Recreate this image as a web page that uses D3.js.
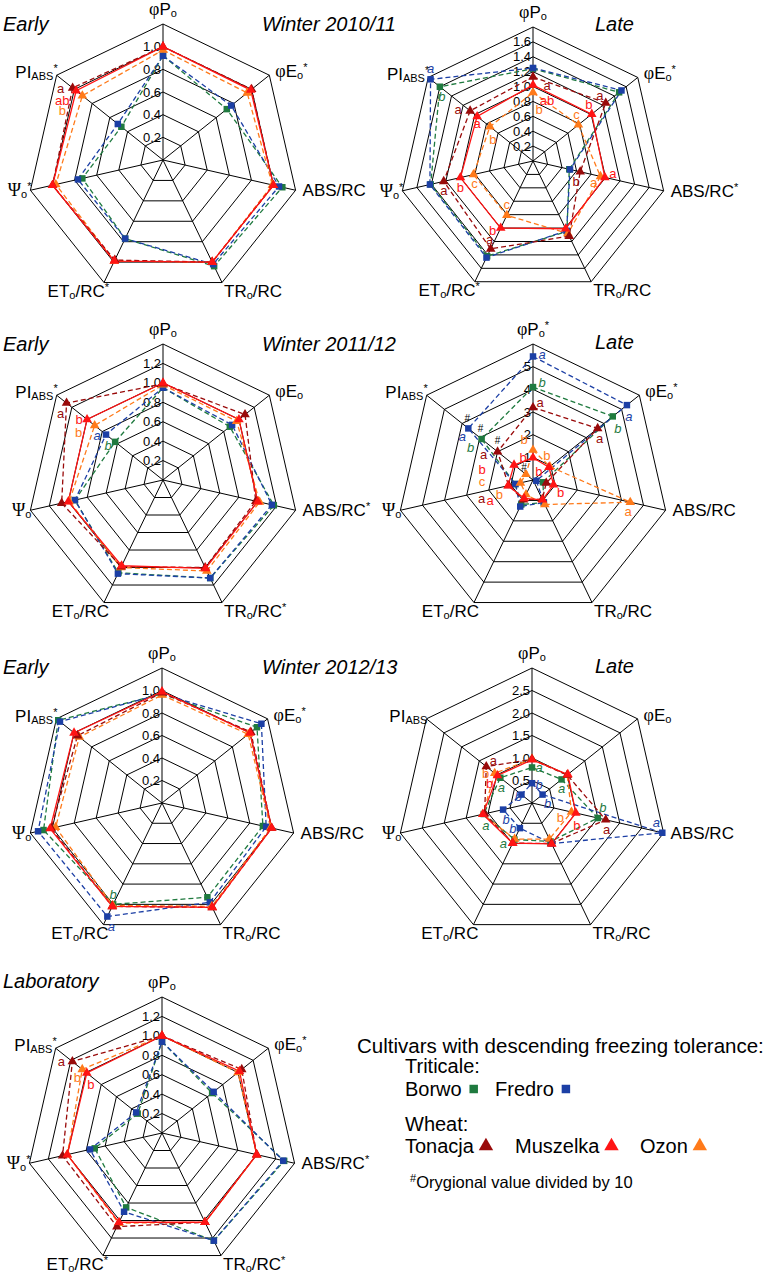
<!DOCTYPE html>
<html><head><meta charset="utf-8">
<script src="https://cdn.jsdelivr.net/npm/d3@7"></script>
<style>body{margin:0;background:#fff} svg{display:block} text{font-family:"Liberation Sans",Arial,sans-serif}</style>
</head><body><svg id="c" width="769" height="1275"></svg>
<script>
// ---------- data ----------
const axisNames = ["φPo","φEo","ABS/RC","TRo/RC","ETo/RC","Ψo","PIABS"];
const cultivars = ["Borwo","Fredro","Tonacja","Muszelka","Ozon"];
// rows: Borwo, Fredro, Tonacja, Muszelka, Ozon ; cols: axisNames order
const early1011 = [
 [0.92,0.72,1.08,1.04,0.77,0.73,0.47],
 [0.92,0.77,1.05,1.02,0.77,0.77,0.51],
 [1.00,1.00,1.00,1.00,0.98,1.00,1.02],
 [1.00,0.99,1.00,1.00,0.99,1.00,0.98],
 [0.97,0.95,0.99,1.00,0.99,0.97,0.91]];
const late1011 = [
 [1.24,1.48,0.50,1.05,1.42,1.41,1.60],
 [1.25,1.52,0.51,1.04,1.44,1.42,1.76],
 [1.13,1.25,0.65,1.12,1.31,1.23,1.08],
 [1.02,1.01,0.99,1.01,1.00,1.00,0.96],
 [0.92,0.78,0.93,1.08,0.81,0.82,0.74]];
const early1112 = [
 [0.95,0.88,1.17,1.12,1.06,0.93,0.63],
 [0.95,0.91,1.15,1.12,1.07,0.93,0.75],
 [0.99,1.08,0.98,1.00,0.99,1.07,1.27],
 [1.00,1.00,1.00,1.01,0.98,1.00,1.00],
 [0.98,0.97,1.02,1.04,1.00,0.99,0.90]];
const late1112 = [
 [4.10,4.50,0.45,1.10,1.20,0.80,2.90],
 [5.45,5.30,0.15,1.10,1.30,0.80,3.65],
 [3.20,3.65,0.60,0.94,0.97,1.10,2.00],
 [0.98,0.90,0.93,0.97,0.90,1.13,1.07],
 [1.32,0.95,4.40,1.20,0.71,0.57,0.40]];
const early1213 = [
 [0.97,1.08,0.92,0.93,1.00,1.08,1.18],
 [0.97,1.13,0.95,0.98,1.12,1.13,1.16],
 [0.98,1.01,1.00,1.03,1.02,1.01,0.96],
 [0.99,1.00,1.00,1.03,1.02,1.02,1.00],
 [0.96,0.98,0.99,1.02,1.01,0.97,0.94]];
const late1213 = [
 [0.79,0.84,1.50,0.95,0.90,1.10,0.90],
 [0.44,0.30,2.97,1.00,0.62,0.66,0.30],
 [0.97,1.00,1.68,1.00,0.99,1.08,1.30],
 [0.96,1.02,1.00,1.01,0.99,1.12,0.98],
 [0.98,1.00,0.90,0.89,0.89,1.12,1.06]];
const laboratory = [
 [0.94,0.66,1.29,1.23,0.85,0.71,0.32],
 [0.94,0.68,1.28,1.23,0.90,0.76,0.34],
 [1.00,1.05,1.00,1.02,1.07,1.05,1.18],
 [1.00,1.02,1.00,1.02,1.02,1.00,0.99],
 [1.00,1.00,1.00,1.02,1.03,1.00,1.05]];

// tick labels
const ticks1011E = ["0.2","0.4","0.6","0.8","1.0"];
const ticks1011L = ["0.2","0.4","0.6","0.8","1.0","1.2","1.4","1.6"];
const ticks1112E = ["0.2","0.4","0.6","0.8","1.0","1.2"];
const ticks1112L = ["1","2","3","4","5"];
const ticks1213E = ["0.2","0.4","0.6","0.8","1.0"];
const ticks1213L = ["0.5","1.0","1.5","2.0","2.5"];
const ticksLab  = ["0.2","0.4","0.6","0.8","1.0","1.2"];

// significance asterisks per axis
const star1011E = [0,1,0,0,1,1,1];
const star1011L = [0,1,1,0,1,1,1];
const star1112E = [0,0,1,1,0,0,1];
const star1112L = [1,1,0,0,0,0,1];
const star1213E = [0,1,0,0,0,0,1];
const star1213L = [0,0,0,0,0,0,0];
const starLab  = [0,1,1,1,1,1,1];

// letters: [axis, cultivar, text, dx, dy] (offset from the marker)
const let1011E = [[6,2,"a",-12,1],[6,3,"ab",-14,10],[6,4,"b",-20,15]];
const let1011L = [[0,2,"a",14,9],[0,3,"ab",14,15],[0,4,"b",6,17],
 [1,2,"a",-6,-8],[1,3,"b",-3,-10],[1,4,"c",-2,-10],
 [2,3,"a",8,-4],[2,4,"a",-7,6],[2,2,"b",-4,10],
 [4,2,"a",-1,-9],[4,3,"b",-8,2],[4,4,"c",0,-11],
 [5,2,"a",0,9],[5,3,"b",0,10],[5,4,"c",1,9],
 [6,1,"a",0,-11],[6,0,"b",2,10],[6,2,"a",-12,-1],[6,3,"a",0,7],[6,4,"b",3,13]];
const let1112E = [[6,2,"a",-6,10],[6,3,"b",-8,0],[6,4,"b",-16,7],[6,1,"a",-9,1],[6,0,"b",-7,4]];
const let1112L = [[0,1,"a",9,-2],[0,0,"b",9,-5],[0,2,"a",7,-5],[0,4,"b",-9,-11],[0,3,"b",-10,0],
 [1,1,"a",2,11],[1,0,"b",5,12],[1,2,"a",2,10],[1,4,"b",-3,-11],[1,3,"b",-10,4],
 [2,4,"a",-2,9],[2,3,"b",7,8],
 [6,1,"a",-6,8],[6,0,"b",-11,8],[6,2,"a",-14,3],[6,3,"b",-32,5],[6,4,"c",-44,7],
 [5,2,"a",-27,13],[5,3,"a",-18,15],[5,4,"b",-21,12],
 [6,1,"#",-1,-10],[6,0,"#",-1,-11],[6,2,"#",0,-11],[6,4,"#",-2,-7]];
const let1213E = [[4,0,"b",0,-10],[4,1,"a",4,10]];
const let1213L = [[0,0,"a",7,0],[0,1,"b",7,1],[1,0,"a",0,9],[1,1,"b",5,9],
 [2,1,"a",-6,-10],[2,0,"b",5,-11],[2,2,"a",1,10],[2,4,"b",-11,5],[2,3,"b",1,12],
 [6,2,"a",7,-6],[6,4,"b",-9,0],[6,3,"b",-8,8],[6,0,"a",1,10],[6,1,"b",-3,2],
 [5,0,"a",2,11],[5,1,"b",3,10],[4,1,"b",-7,0],[4,0,"a",-11,4]];
const letLab = [[6,2,"a",-11,0],[6,4,"b",-5,8],[6,3,"b",4,11]];

// ---------- styles ----------
const colors = ["#1f7a3f","#1c3fa5","#990a0a","#ff1414","#ff7a1a"];
const dashes = ["5,3","5,3","5,3",null,"5,3"];
const shapes = ["square","square","tri","tri","tri"];
const drawOrder = [0,1,4,2,3];

const panels = [
 {cx:163,cy:160,r:136,max:1.2,step:0.2,ticks:ticks1011E,data:early1011,stars:star1011E,letters:let1011E},
 {cx:533,cy:161,r:134,max:1.8,step:0.2,ticks:ticks1011L,data:late1011,stars:star1011L,letters:let1011L},
 {cx:163,cy:480,r:136,max:1.4,step:0.2,ticks:ticks1112E,data:early1112,stars:star1112E,letters:let1112E},
 {cx:533,cy:480,r:136,max:6,step:1,ticks:ticks1112L,data:late1112,stars:star1112L,letters:let1112L},
 {cx:162,cy:803,r:135,max:1.2,step:0.2,ticks:ticks1213E,data:early1213,stars:star1213E,letters:let1213E},
 {cx:532,cy:803,r:135,max:3.0,step:0.5,ticks:ticks1213L,data:late1213,stars:star1213L,letters:let1213L},
 {cx:162,cy:1133,r:136,max:1.4,step:0.2,ticks:ticksLab,data:laboratory,stars:starLab,letters:letLab}
];

const svg = d3.select("#c");
const N = 7;
const ang = i => i*2*Math.PI/N;

function labelParts(i){
  switch(i){
    case 0: return [["φ","serif"],["P"],["o","sub"]];
    case 1: return [["φ","serif"],["E"],["o","sub"]];
    case 2: return [["ABS/RC"]];
    case 3: return [["TR"],["o","sub"],["/RC"]];
    case 4: return [["ET"],["o","sub"],["/RC"]];
    case 5: return [["Ψ","serif"],["o","sub"]];
    case 6: return [["PI"],["ABS","sub"]];
  }
}
function labelPos(i,vx,vy){
  return [
    {x:vx,y:vy-9,a:"middle"},
    {x:vx+6,y:vy+2,a:"start"},
    {x:vx+7,y:vy+6,a:"start"},
    {x:vx+2,y:vy+14,a:"start"},
    {x:vx+5,y:vy+14,a:"end"},
    {x:vx+1,y:vy+6,a:"end"},
    {x:vx+1,y:vy+3,a:"end"}][i];
}

panels.forEach(p=>{
  const g = svg.append("g").attr("transform",`translate(${p.cx},${p.cy})`);
  const rs = d3.scaleLinear().domain([0,p.max]).range([0,p.r]);
  const nR = Math.round(p.max/p.step);
  const ringVals = d3.range(1,nR+1).map(k=>k*p.step);
  const ringLine = d3.lineRadial().angle((d,i)=>ang(i)).radius(d=>rs(d)).curve(d3.curveLinearClosed);
  g.selectAll("path.ring").data(ringVals).join("path").attr("class","ring")
    .attr("d",v=>ringLine(d3.range(N).map(()=>v)))
    .attr("fill","none").attr("stroke","#000").attr("stroke-width",1);
  g.selectAll("line.spoke").data(d3.range(N)).join("line")
    .attr("x1",0).attr("y1",0)
    .attr("x2",i=>rs(p.max)*Math.sin(ang(i)))
    .attr("y2",i=>-rs(p.max)*Math.cos(ang(i)))
    .attr("stroke","#000").attr("stroke-width",1);
  g.selectAll("text.tick").data(p.ticks).join("text")
    .attr("x",-2).attr("y",t=>-rs(+t)+4.5)
    .attr("text-anchor","end").attr("font-size",13).attr("fill","#000").text(t=>t);
  d3.range(N).forEach(i=>{
    const vx = p.cx + p.r*Math.sin(ang(i)), vy = p.cy - p.r*Math.cos(ang(i));
    const lp = labelPos(i,vx,vy);
    const t = svg.append("text").attr("x",lp.x).attr("y",lp.y).attr("text-anchor",lp.a)
      .attr("font-size",17).attr("fill","#000");
    let shifted = 0;
    labelParts(i).forEach(([s,kind])=>{
      const ts = t.append("tspan").text(s);
      if(kind==="serif"){ ts.attr("font-family","'Liberation Serif','Times New Roman',serif").attr("font-size",18); }
      if(kind==="sub"){ ts.attr("font-size",11).attr("dy",2); shifted=2; }
      else if(shifted){ ts.attr("dy",-shifted); shifted=0; }
    });
    if(p.stars[i]){
      t.append("tspan").text("*").attr("font-size",11).attr("dy",-6-shifted);
    }
  });
  const line = d3.lineRadial().angle((d,i)=>ang(i)).radius(d=>rs(d)).curve(d3.curveLinearClosed);
  drawOrder.forEach(s=>{
    g.append("path").attr("d",line(p.data[s])).attr("fill","none")
      .attr("stroke",colors[s]).attr("stroke-width",1.3)
      .attr("stroke-dasharray",dashes[s]);
  });
  const pt = (s,i)=>[rs(p.data[s][i])*Math.sin(ang(i)), -rs(p.data[s][i])*Math.cos(ang(i))];
  drawOrder.forEach(s=>{
    const sym = shapes[s]==="square" ? d3.symbol(d3.symbolSquare,42) : d3.symbol(d3.symbolTriangle,40);
    g.selectAll(null).data(p.data[s]).join("path")
      .attr("transform",(d,i)=>{const [x,y]=pt(s,i);return `translate(${x},${y})`;})
      .attr("d",sym).attr("fill",colors[s]);
  });
  p.letters.forEach(([i,s,txt,dx,dy])=>{
    const [x,y]=pt(s,i);
    const isHash = txt==="#";
    g.append("text").attr("x",x+dx).attr("y",y+dy).attr("dy","0.35em")
      .attr("text-anchor","middle").attr("font-size",isHash?10:13)
      .attr("font-style",(!isHash && s<2)?"italic":"normal")
      .attr("fill",isHash?"#000":colors[s]).text(txt);
  });
});

// titles
const titles = [["Early",3,31],["Winter 2010/11",262,31],["Late",595,31],
 ["Early",3,351],["Winter 2011/12",262,351],["Late",595,349],
 ["Early",3,674],["Winter 2012/13",262,674],["Late",595,673],
 ["Laboratory",3,988]];
titles.forEach(([t,x,y])=>svg.append("text").attr("x",x).attr("y",y)
  .attr("font-size",20).attr("font-style","italic").attr("fill","#000").text(t));

// legend
const L = svg.append("g");
L.append("text").attr("x",357).attr("y",1053).attr("font-size",20.5).text("Cultivars with descending freezing tolerance:");
L.append("text").attr("x",405).attr("y",1073).attr("font-size",20).text("Triticale:");
L.append("text").attr("x",405).attr("y",1131).attr("font-size",20).text("Wheat:");
const legItems = [[0,405,1096],[1,495,1096],[2,405,1153],[3,515,1153],[4,640,1153]];
legItems.forEach(([s,x,y])=>{
  const t = L.append("text").attr("x",x).attr("y",y).attr("font-size",20).text(cultivars[s]);
  const w = t.node().getComputedTextLength();
  const sym = shapes[s]==="square" ? d3.symbol(d3.symbolSquare,72) : d3.symbol(d3.symbolTriangle,90);
  L.append("path").attr("d",sym).attr("fill",colors[s])
    .attr("transform",`translate(${x+w+12},${y-7})`);
});
const fn = L.append("text").attr("x",410).attr("y",1188).attr("font-size",16.5);
fn.append("tspan").text("#").attr("font-size",11).attr("dy",-6);
fn.append("tspan").text("Orygional value divided by 10").attr("dy",6);
</script></body></html>
